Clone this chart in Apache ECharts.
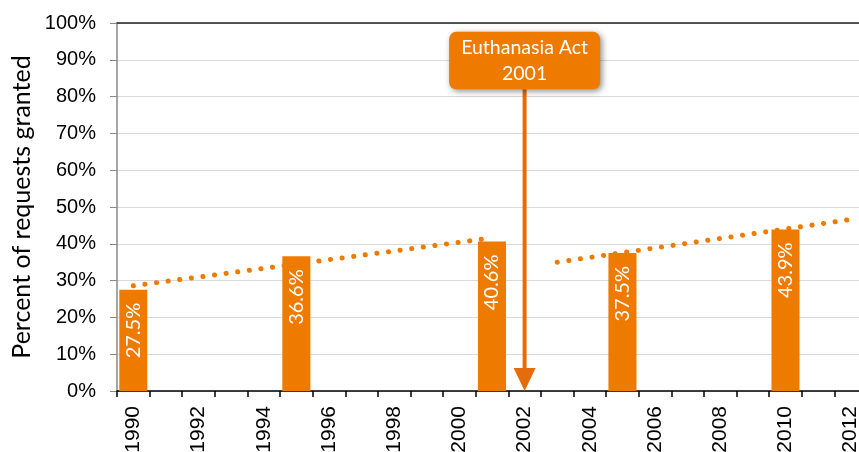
<!DOCTYPE html>
<html>
<head>
<meta charset="utf-8">
<script src="https://cdn.jsdelivr.net/npm/echarts@6/dist/echarts.min.js"></script>
<style>html,body{margin:0;padding:0;background:#fff}#c{width:859px;height:452px}</style>
</head>
<body>
<div id="c"></div>
<script>
const years = ['1990','1991','1992','1993','1994','1995','1996','1997','1998','1999','2000','2001','2002','2003','2004','2005','2006','2007','2008','2009','2010','2011','2012'];
const barYears = ['1990','1995','2001','2005','2010'];
const barValues = [27.5, 36.6, 40.6, 37.5, 43.9];
const trendBefore = [['1990', 28.6], ['2001', 41.6]];
const trendAfter = [['2003', 35.0], ['2012', 46.6]];
const actYear = '2002';
const actLines = ['Euthanasia Act', '2001'];
const actBoxTop = 97.6, actBoxBottom = 82;
const yAxisTitle = 'Percent of requests granted';

const ORANGE = '#EE7B00';
const ARROW = '#E46C0A';

const chart = echarts.init(document.getElementById('c'), null, {renderer: 'canvas'});
const barData = barYears.map((y, i) => [y, barValues[i]]);
const dotted = {color: ORANGE, width: 5, type: [0.1, 11.6], cap: 'round'};

chart.setOption({
  animation: false,
  grid: {left: 117, width: 750, top: 23, bottom: 61, containLabel: false, outerBoundsMode: 'none'},
  xAxis: [{
    type: 'category', data: years, boundaryGap: true,
    axisLine: {lineStyle: {color: '#000', width: 1.5}},
    axisTick: {show: true, interval: 0, length: 6, lineStyle: {color: '#000', width: 1.5}},
    axisLabel: {interval: 1, rotate: 90, margin: 15, fontFamily: 'Liberation Sans', fontSize: 21, color: '#000'},
    splitLine: {show: false}
  }, {
    type: 'category', data: years, position: 'top',
    axisLine: {show: true, lineStyle: {color: '#222', width: 1.5}},
    axisTick: {show: false}, axisLabel: {show: false}
  }],
  yAxis: {
    type: 'value', min: 0, max: 100, interval: 10,
    name: yAxisTitle, nameLocation: 'middle', nameGap: 80, nameRotate: 90,
    nameTextStyle: {fontFamily: 'Lato', fontSize: 25, color: '#000'},
    axisLine: {show: true, lineStyle: {color: '#888', width: 1.5}},
    axisTick: {show: true, length: 7, lineStyle: {color: '#888', width: 1}},
    axisLabel: {formatter: v => v + '%', margin: 21, fontFamily: 'Liberation Sans', fontSize: 20, color: '#000'},
    splitLine: {lineStyle: {color: '#D9D9D9', width: 1.2}}
  },
  series: [{
    type: 'bar', data: barData, barWidth: '86%',
    itemStyle: {color: ORANGE},
    label: {
      show: true, position: 'insideTop', rotate: 90, align: 'right', verticalAlign: 'middle',
      distance: 13, formatter: p => p.value[1].toFixed(1) + '%',
      color: '#fff', fontFamily: 'Lato', fontSize: 20
    },
    z: 2
  }, {
    type: 'line', data: trendBefore, symbol: 'none', lineStyle: dotted, z: 3
  }, {
    type: 'line', data: trendAfter, symbol: 'none', lineStyle: dotted, z: 3
  }]
});

function drawAnnotation() {
  const x = chart.convertToPixel({xAxisIndex: 0}, actYear);
  const yTop = chart.convertToPixel({yAxisIndex: 0}, actBoxTop);
  const yBot = chart.convertToPixel({yAxisIndex: 0}, actBoxBottom);
  const yAxis0 = chart.convertToPixel({yAxisIndex: 0}, 0);
  const boxW = 151, headW = 22, headH = 23;
  chart.setOption({
    graphic: [
      {type: 'line', silent: true, z: 10,
       shape: {x1: x, y1: yBot, x2: x, y2: yAxis0 - headH + 1},
       style: {stroke: ARROW, lineWidth: 4}},
      {type: 'polygon', silent: true, z: 10,
       shape: {points: [[x - headW / 2, yAxis0 - headH], [x + headW / 2, yAxis0 - headH], [x, yAxis0]]},
       style: {fill: ARROW}},
      {type: 'rect', silent: true, z: 11,
       shape: {x: x - boxW / 2, y: yTop, width: boxW, height: yBot - yTop, r: 7},
       style: {fill: ORANGE, shadowBlur: 6, shadowColor: 'rgba(0,0,0,0.45)', shadowOffsetX: 2, shadowOffsetY: 2}},
      {type: 'text', silent: true, z: 12,
       x: x, y: (yTop + yBot) / 2,
       style: {text: actLines.join('\n'), fill: '#fff', font: '19.5px Lato', lineHeight: 26, align: 'center', verticalAlign: 'middle'}}
    ]
  });
}
drawAnnotation();
</script>
</body>
</html>
